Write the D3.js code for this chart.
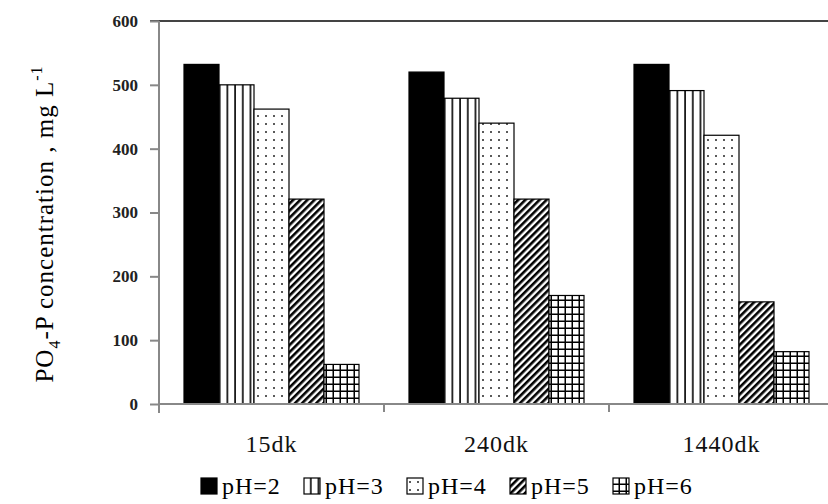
<!DOCTYPE html>
<html>
<head>
<meta charset="utf-8">
<script src="https://cdn.jsdelivr.net/npm/d3@7"></script>
<style>
  body { margin: 0; background: #fff; }
  svg { display: block; }
</style>
</head>
<body>
<script>
const categories = ["15dk", "240dk", "1440dk"];
const series = ["pH=2", "pH=3", "pH=4", "pH=5", "pH=6"];
const ph2 = [532, 520, 532];
const ph3 = [500, 479, 491];
const ph4 = [462, 440, 421];
const ph5 = [321, 321, 160];
const ph6 = [62, 170, 82];
const yTicks = [0, 100, 200, 300, 400, 500, 600];

const values = [ph2, ph3, ph4, ph5, ph6];
const w = 828, h = 504;
const m = { top: 21, left: 159, bottom: 404, right: 834 };

const svg = d3.select("body").append("svg")
    .attr("width", w)
    .attr("height", h);

// Fill patterns
const defs = svg.append("defs");

const vp = defs.append("pattern").attr("id", "p3")
    .attr("patternUnits", "userSpaceOnUse").attr("width", 7.7).attr("height", 10);
vp.append("rect").attr("width", 7.7).attr("height", 10).attr("fill", "#fff");
vp.append("rect").attr("x", 6).attr("width", 1.6).attr("height", 10).attr("fill", "#000");

const dp = defs.append("pattern").attr("id", "p4")
    .attr("patternUnits", "userSpaceOnUse").attr("width", 16).attr("height", 16);
dp.append("rect").attr("width", 16).attr("height", 16).attr("fill", "#fff");
dp.append("circle").attr("cx", 3).attr("cy", 4).attr("r", 1).attr("fill", "#222");
dp.append("circle").attr("cx", 11).attr("cy", 12).attr("r", 1).attr("fill", "#222");
dp.append("circle").attr("cx", 3).attr("cy", 12).attr("r", 1).attr("fill", "#222");
dp.append("circle").attr("cx", 11).attr("cy", 4).attr("r", 1).attr("fill", "#222");

const sp = defs.append("pattern").attr("id", "p5")
    .attr("patternUnits", "userSpaceOnUse").attr("width", 5).attr("height", 5)
    .attr("patternTransform", "rotate(45)");
sp.append("rect").attr("width", 5).attr("height", 5).attr("fill", "#fff");
sp.append("rect").attr("width", 2.6).attr("height", 5).attr("fill", "#000");

const gp = defs.append("pattern").attr("id", "p6")
    .attr("patternUnits", "userSpaceOnUse").attr("width", 7).attr("height", 7);
gp.append("rect").attr("width", 7).attr("height", 7).attr("fill", "#fff");
gp.append("rect").attr("x", 5.5).attr("width", 1.5).attr("height", 7).attr("fill", "#000");
gp.append("rect").attr("y", 5.5).attr("width", 7).attr("height", 1.5).attr("fill", "#000");

const fills = ["#000", "url(#p3)", "url(#p4)", "url(#p5)", "url(#p6)"];

// Scales
const x0 = d3.scaleBand().domain(categories).range([m.left, m.right]);
const x1 = d3.scaleBand().domain(series).range([25, 200]);
const y = d3.scaleLinear().domain([0, 600]).range([m.bottom, m.top]);

// Top border line
svg.append("line")
    .attr("x1", m.left - 9).attr("x2", w)
    .attr("y1", y(600)).attr("y2", y(600))
    .attr("stroke", "#444").attr("stroke-width", 2);

// Bars
const groups = svg.selectAll(".grp")
    .data(categories)
    .enter().append("g")
    .attr("transform", d => `translate(${x0(d)},0)`);

groups.selectAll("rect")
    .data((c, ci) => series.map((s, si) => ({ s, si, v: values[si][ci] })))
    .enter().append("rect")
    .attr("x", d => x1(d.s))
    .attr("y", d => y(d.v))
    .attr("width", x1.bandwidth())
    .attr("height", d => y(0) - y(d.v))
    .attr("fill", d => fills[d.si])
    .attr("stroke", "#000")
    .attr("stroke-width", 1.2);

// Y axis
const yAxis = d3.axisLeft(y).tickValues(yTicks).tickSize(9).tickSizeOuter(0).tickPadding(12);
const ga = svg.append("g")
    .attr("transform", `translate(${m.left},0)`)
    .call(yAxis);
ga.select(".domain").attr("stroke", "#888").attr("stroke-width", 2)
    .attr("d", `M0,${m.top}V${m.bottom + 9}`);
ga.selectAll(".tick line").attr("stroke", "#888").attr("stroke-width", 2);
ga.selectAll(".tick text")
    .style("font-family", "'Liberation Serif', serif")
    .style("font-weight", "bold")
    .style("font-size", "17px")
    .attr("fill", "#222");

// X axis
const xAxis = d3.axisBottom(x0).tickSize(0).tickPadding(31);
const gx = svg.append("g")
    .attr("transform", `translate(0,${m.bottom})`)
    .call(xAxis);
gx.select(".domain").attr("stroke", "#888").attr("stroke-width", 2)
    .attr("d", `M${m.left},0H${w}`);
gx.selectAll(".tick text")
    .style("font-family", "'Liberation Serif', serif")
    .style("font-size", "24px")
    .style("letter-spacing", "1px")
    .attr("fill", "#111");
// boundary ticks between categories
svg.selectAll(".btick")
    .data(categories.slice(1))
    .enter().append("line")
    .attr("x1", d => x0(d)).attr("x2", d => x0(d))
    .attr("y1", m.bottom).attr("y2", m.bottom + 8)
    .attr("stroke", "#888").attr("stroke-width", 2);

// Y label
const yl = svg.append("text")
    .attr("transform", `translate(53,224) rotate(-90)`)
    .attr("text-anchor", "middle")
    .style("font-family", "'Liberation Serif', serif")
    .style("font-size", "25px")
    .style("letter-spacing", "1px")
    .attr("fill", "#000");
yl.append("tspan").text("PO");
yl.append("tspan").attr("dy", 7).style("font-size", "16px").text("4");
yl.append("tspan").attr("dy", -7).text("-P concentration , mg L");
yl.append("tspan").attr("dy", -11).style("font-size", "16px").text("-1");

// Legend
const legend = svg.append("g").attr("transform", "translate(201,478)");
const item = legend.selectAll("g")
    .data(series)
    .enter().append("g")
    .attr("transform", (d, i) => `translate(${i * 103},0)`);
item.append("rect")
    .attr("x", 0).attr("y", 0)
    .attr("width", 16).attr("height", 16)
    .attr("fill", (d, i) => fills[i])
    .attr("stroke", "#000").attr("stroke-width", 1.2);
item.append("text")
    .attr("x", 21).attr("y", 16)
    .style("font-family", "'Liberation Serif', serif")
    .style("font-size", "24px")
    .style("letter-spacing", "1px")
    .attr("fill", "#000")
    .text(d => d);
</script>
</body>
</html>
